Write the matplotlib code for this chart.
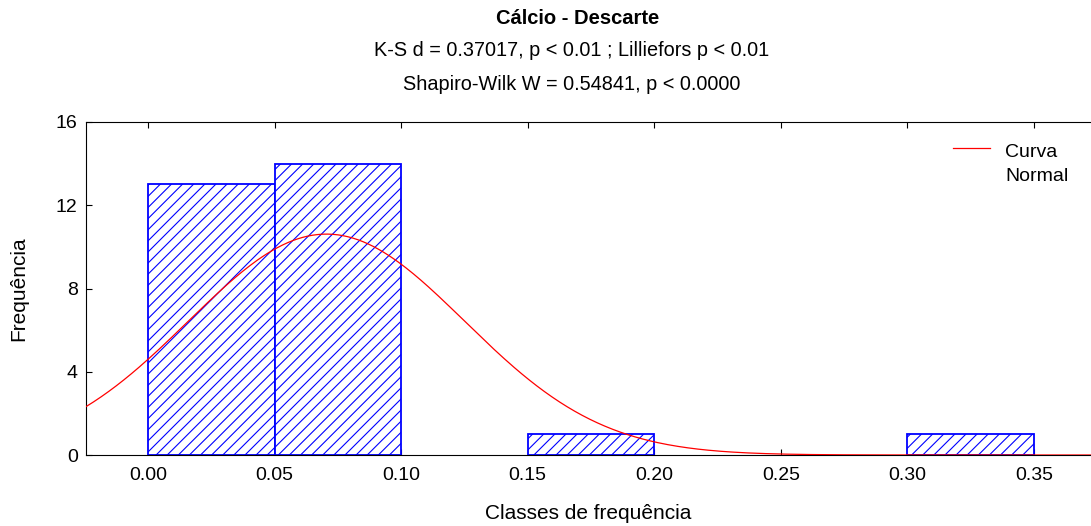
import numpy as np
import matplotlib.pyplot as plt
from matplotlib.legend_handler import HandlerLine2D

plt.rcParams['font.family'] = ['Liberation Sans', 'DejaVu Sans']
plt.rcParams['hatch.linewidth'] = 0.8
plt.rcParams['hatch.color'] = 'blue'

# histogram classes
bin_left = [0.00, 0.05, 0.10, 0.15, 0.20, 0.25, 0.30]
counts = [13, 14, 0, 1, 0, 0, 1]
bin_width = 0.05

# fitted normal curve parameters
n_obs = 29
mean = 0.0705
sd = 0.0545

xticks = [0.00, 0.05, 0.10, 0.15, 0.20, 0.25, 0.30, 0.35]
yticks = [0, 4, 8, 12, 16]


# legend line sits next to the first text line
class TopLine(HandlerLine2D):
    def create_artists(self, legend, orig_handle, xdescent, ydescent,
                       width, height, fontsize, trans):
        arts = super().create_artists(legend, orig_handle, xdescent, ydescent,
                                      width, height, fontsize, trans)
        for a in arts:
            a.set_ydata(np.asarray(a.get_ydata()) + 0.85 * fontsize)
        return arts


fig = plt.figure(figsize=(10.91, 5.26), dpi=100)
ax = fig.add_axes([86/1091, 71/526, 1005/1091, 333/526])

left = [b for b, c in zip(bin_left, counts) if c > 0]
heights = [c for c in counts if c > 0]
ax.bar(left, heights, width=bin_width, align='edge', color='white',
       edgecolor='blue', hatch='///', linewidth=1.3, zorder=2)

xlo, xhi = -0.0245, 0.3725
xs = np.linspace(xlo, xhi, 400)
ys = n_obs * bin_width / (sd * np.sqrt(2 * np.pi)) * np.exp(-0.5 * ((xs - mean) / sd) ** 2)
line, = ax.plot(xs, ys, color='red', linewidth=0.9, label='Curva\nNormal', zorder=3)

ax.set_xlim(xlo, xhi)
ax.set_ylim(0, 16)
ax.set_xticks(xticks)
ax.set_xticklabels([f'{t:.2f}' for t in xticks])
ax.set_yticks(yticks)
ax.tick_params(axis='both', labelsize=14, direction='in', length=4, top=True)
ax.tick_params(axis='x', pad=9)
ax.tick_params(axis='y', pad=6)
ax.spines['right'].set_visible(False)

ax.set_xlabel('Classes de frequência', fontsize=15, labelpad=14)
ax.set_ylabel('Frequência', fontsize=15, labelpad=20)

fig.text(0.529, 1 - 19/526, 'Cálcio - Descarte', ha='center', va='center',
         fontsize=14.5, fontweight='bold')
fig.text(0.524, 1 - 51/526, 'K-S d = 0.37017, p < 0.01 ; Lilliefors p < 0.01',
         ha='center', va='center', fontsize=14.3)
fig.text(0.524, 1 - 85/526, 'Shapiro-Wilk W = 0.54841, p < 0.0000',
         ha='center', va='center', fontsize=14.3)

leg = ax.legend(handles=[line], loc='upper left', frameon=False, fontsize=14,
                handlelength=1.9, handletextpad=0.77, borderpad=0, borderaxespad=0,
                bbox_to_anchor=(0.863, 0.935), handler_map={line: TopLine()})
for t in leg.get_texts():
    t.set_linespacing(1.6)

fig.savefig('out.png', dpi=100)
